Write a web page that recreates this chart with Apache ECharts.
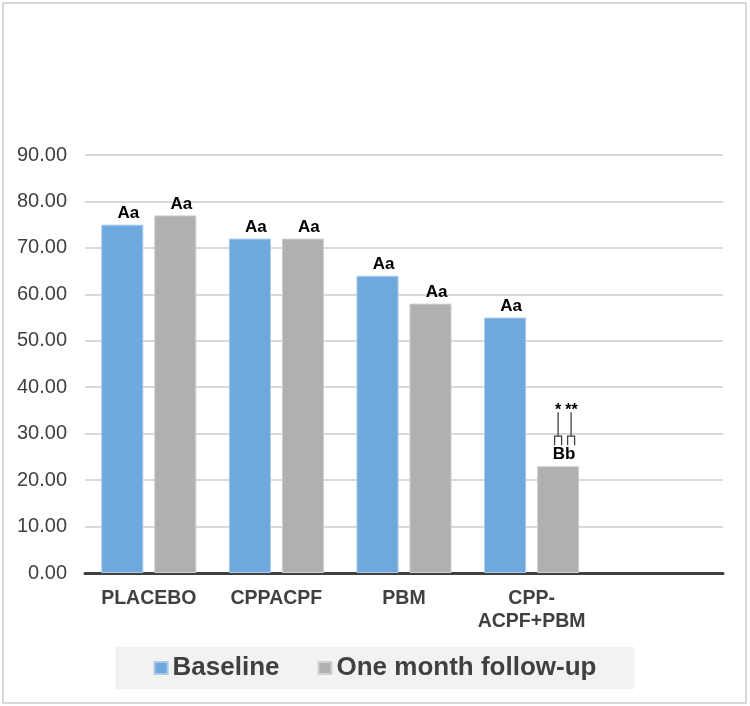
<!DOCTYPE html>
<html>
<head>
<meta charset="utf-8">
<script src="https://cdn.jsdelivr.net/npm/echarts@6/dist/echarts.min.js"></script>
<style>html,body{margin:0;padding:0;background:#fff}#c{width:750px;height:706px}</style>
</head>
<body>
<div id="c"></div>
<script>
var categories = ['PLACEBO', 'CPPACPF', 'PBM', 'CPP-\nACPF+PBM', ''];
var baseline = [75, 72, 64, 55];
var followUp = [77, 72, 58, 23];
var baselineLetters = ['Aa', 'Aa', 'Aa', 'Aa'];
var followUpLetters = ['Aa', 'Aa', 'Aa', 'Bb'];
var yTicks = [0, 10, 20, 30, 40, 50, 60, 70, 80, 90];
var bracketGroup = 3;   // index of the category carrying the */** bracket

(function () {
var font = 'Liberation Sans, Arial, sans-serif';
var gridL = 85, gridR = 27, gridT = 155, gridB = 133;
var barGapRatio = 0.26, catGapRatio = 0.255;

var chart = echarts.init(document.getElementById('c'), null, {renderer: 'canvas'});
var labelStyle = {show: true, position: 'top', distance: 3, offset: [6, 0],
  fontFamily: font, fontWeight: 'bold', fontSize: 17, color: '#000'};

chart.setOption({
  animation: false,
  grid: {left: gridL, right: gridR, top: gridT, bottom: gridB},
  legend: {
    top: 647, left: 'center',
    backgroundColor: '#f2f2f2',
    padding: [8, 38],
    itemGap: 38,
    itemWidth: 13, itemHeight: 12,
    icon: 'rect',
    textStyle: {fontFamily: font, fontWeight: 'bold', fontSize: 26, color: '#404040'},
    data: ['Baseline', 'One month follow-up']
  },
  xAxis: {
    type: 'category',
    data: categories,
    axisLine: {lineStyle: {color: '#404040', width: 3}},
    axisTick: {show: false},
    axisLabel: {fontFamily: font, fontWeight: 'bold', fontSize: 19.5, color: '#404040', margin: 14, lineHeight: 23, interval: 0}
  },
  yAxis: {
    type: 'value', min: yTicks[0], max: yTicks[yTicks.length - 1], interval: 10,
    axisLine: {show: false}, axisTick: {show: false},
    axisLabel: {fontFamily: font, fontSize: 20, color: '#404040', margin: 18,
      formatter: function (v) { return v.toFixed(2); }},
    splitLine: {lineStyle: {color: '#d9d9d9', width: 2}}
  },
  series: [
    {name: 'Baseline', type: 'bar', data: baseline, barGap: (barGapRatio * 100) + '%', barCategoryGap: (catGapRatio * 100) + '%',
      itemStyle: {color: '#6fa8dc', borderColor: '#a9cbeb', borderWidth: 1},
      label: Object.assign({}, labelStyle, {formatter: function (p) { return baselineLetters[p.dataIndex]; }})},
    {name: 'One month follow-up', type: 'bar', data: followUp, barGap: (barGapRatio * 100) + '%', barCategoryGap: (catGapRatio * 100) + '%',
      itemStyle: {color: '#b0b0b0', borderColor: '#cfcfcf', borderWidth: 1},
      label: Object.assign({}, labelStyle, {formatter: function (p) { return followUpLetters[p.dataIndex]; }})}
  ]
});

// significance bracket positioned from the axes' own scales
var p = chart.convertToPixel({seriesIndex: 1}, [bracketGroup, followUp[bracketGroup]]);
var catW = (750 - gridL - gridR) / categories.length;
var barW = catW * (1 - catGapRatio) / (2 + barGapRatio);
var cx = p[0] + barW / 2 + barW * barGapRatio / 2;
var barTop = p[1];
var lc = '#404040';
function bracket(x) {
  return [
    {type: 'polyline', shape: {points: [[x - 3.5, barTop - 21], [x - 3.5, barTop - 30], [x + 3.5, barTop - 30], [x + 3.5, barTop - 21]]}, style: {stroke: lc, lineWidth: 1.3, fill: null}},
    {type: 'line', shape: {x1: x, y1: barTop - 30, x2: x, y2: barTop - 54}, style: {stroke: lc, lineWidth: 1.3}}
  ];
}
var g = [{type: 'rect', shape: {x: 3, y: 3, width: 743, height: 700}, style: {stroke: '#cccccc', lineWidth: 1.5, fill: null}, z: -1}];
g = g.concat(bracket(cx), bracket(cx + 13));
g.push({type: 'text', x: cx, y: barTop - 48, style: {text: '*', font: 'bold 16px ' + font, fill: '#000', textAlign: 'center', textVerticalAlign: 'bottom'}});
g.push({type: 'text', x: cx + 13.5, y: barTop - 48, style: {text: '**', font: 'bold 16px ' + font, fill: '#000', textAlign: 'center', textVerticalAlign: 'bottom'}});
chart.setOption({graphic: g});
})();
</script>
</body>
</html>
